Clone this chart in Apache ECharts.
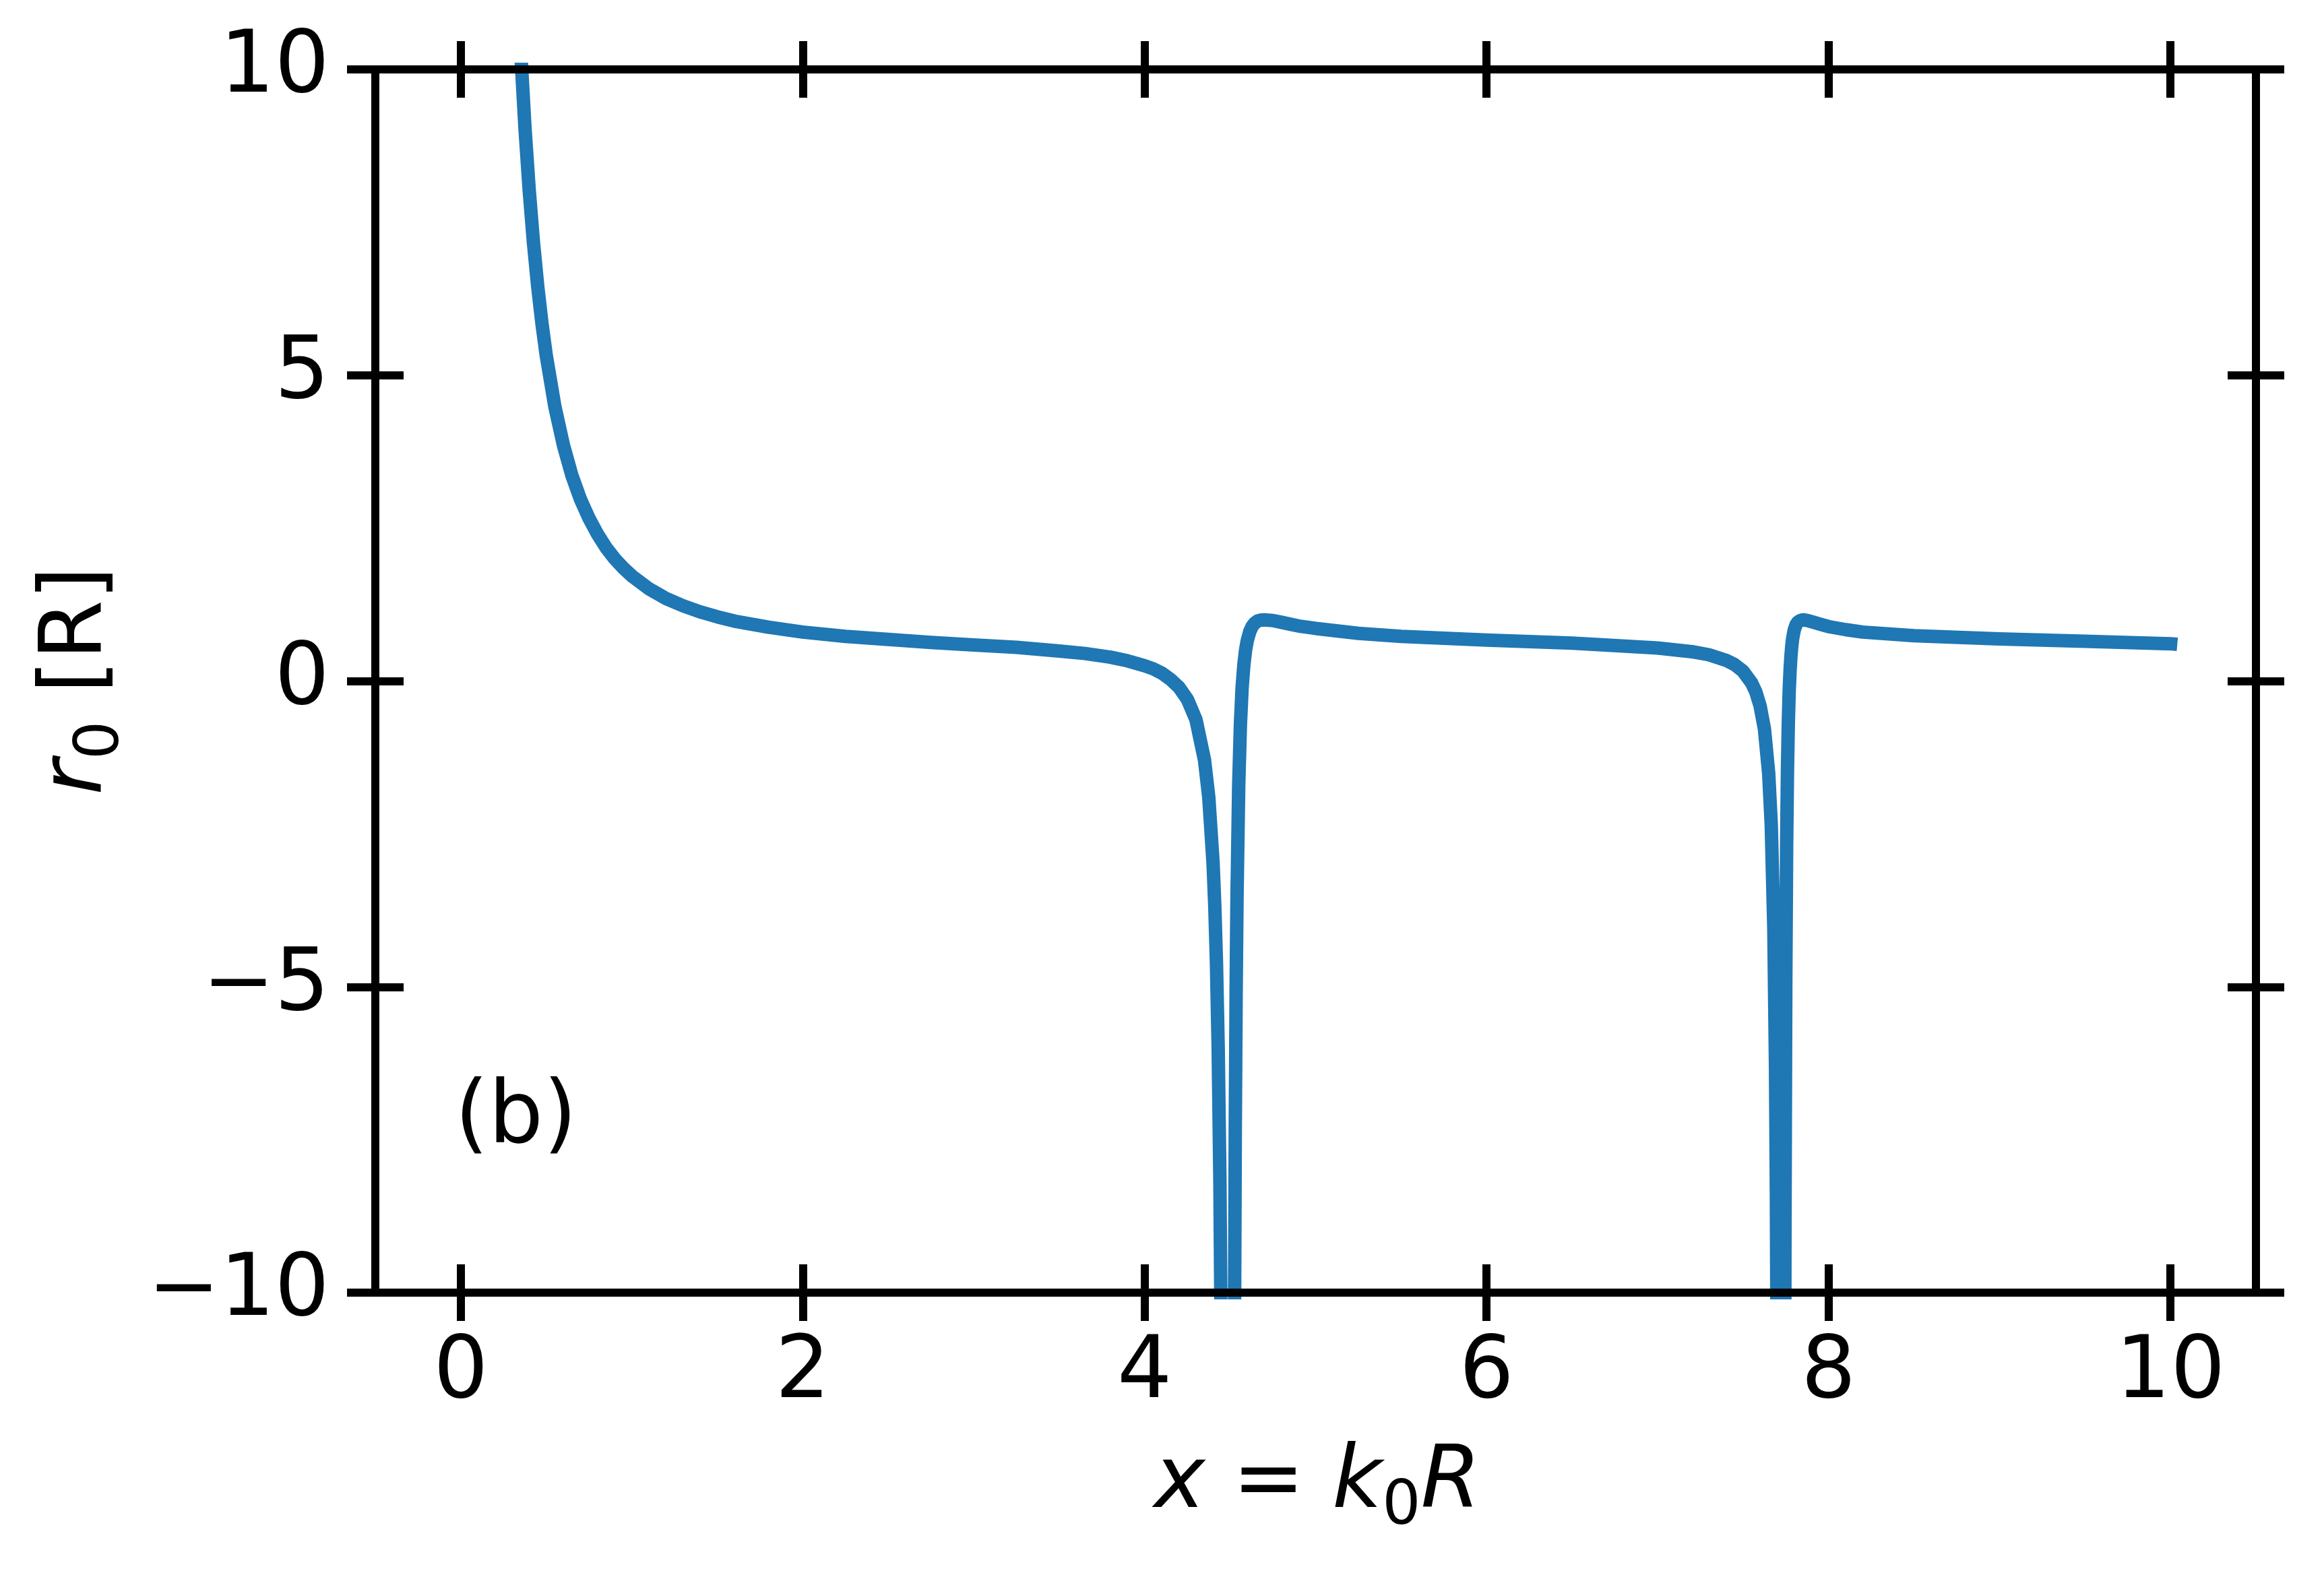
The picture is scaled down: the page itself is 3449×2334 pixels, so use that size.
<!DOCTYPE html>
<html>
<head>
<meta charset="utf-8">
<script src="https://cdn.jsdelivr.net/npm/echarts@6/dist/echarts.min.js"></script>
<style>
  html, body { margin: 0; padding: 0; background: #fff; }
  #chart { width: 3449px; height: 2334px; }
</style>
</head>
<body>
<div id="chart"></div>
<script>
// x = k0 R, sampled densely around the bends and the two dips
const xs = [
  0.30, 0.325, 0.35, 0.375, 0.40, 0.425, 0.45, 0.475, 0.50, 0.55,
  0.60, 0.65, 0.70, 0.75, 0.80, 0.85, 0.90, 0.95, 1.00, 1.10,
  1.20, 1.30, 1.40, 1.50, 1.60, 1.70, 1.80, 2.00, 2.25, 2.50,
  2.75, 3.00, 3.25, 3.50, 3.65, 3.80, 3.90, 4.00, 4.05, 4.10,
  4.15, 4.20, 4.25, 4.30, 4.35, 4.375, 4.40, 4.41, 4.42, 4.43,
  4.44, 4.45, 4.46, 4.47,
  4.52, 4.525, 4.53, 4.535, 4.54, 4.55, 4.56, 4.57, 4.58, 4.59,
  4.60, 4.615, 4.63, 4.645, 4.66, 4.68, 4.70, 4.75, 4.80, 4.85,
  4.90, 5.00, 5.25, 5.50, 6.00, 6.50, 7.00, 7.20, 7.30, 7.40,
  7.45, 7.50, 7.55, 7.575, 7.60, 7.625, 7.65, 7.665, 7.68, 7.69,
  7.695, 7.70, 7.71,
  7.74, 7.745, 7.75, 7.755, 7.76, 7.765, 7.77, 7.775, 7.78, 7.785,
  7.79, 7.795, 7.80, 7.81, 7.82, 7.835, 7.85, 7.875, 7.90, 7.95,
  8.00, 8.10, 8.20, 8.50, 9.00, 9.50, 10.00, 10.04
];
// r0 in units of R
const r0 = [
  13.86, 11.89, 10.32, 9.06, 8.03, 7.17, 6.45, 5.84, 5.32, 4.49,
  3.86, 3.36, 2.97, 2.66, 2.40, 2.18, 2.00, 1.85, 1.72, 1.51,
  1.35, 1.23, 1.13, 1.05, 0.98, 0.93, 0.88, 0.80, 0.73, 0.68,
  0.63, 0.59, 0.55, 0.49, 0.45, 0.39, 0.33, 0.25, 0.20, 0.13,
  0.03, -0.10, -0.30, -0.63, -1.29, -1.90, -2.97, -3.66, -4.61, -5.99,
  -8.15, -11.81, -18.94, -36.3,
  -16.73, -10.88, -7.35, -5.09, -3.56, -1.72, -0.71, -0.11, 0.26, 0.50,
  0.66, 0.81, 0.90, 0.95, 0.98, 0.998, 1.00, 0.99, 0.96, 0.93,
  0.90, 0.86, 0.78, 0.73, 0.67, 0.62, 0.54, 0.48, 0.43, 0.34,
  0.27, 0.16, -0.03, -0.18, -0.41, -0.78, -1.51, -2.35, -4.03, -6.35,
  -8.37, -11.61, -29.2,
  -19.03, -9.19, -4.89, -2.68, -1.43, -0.66, -0.16, 0.17, 0.40, 0.57,
  0.69, 0.77, 0.84, 0.92, 0.96, 0.99, 1.00, 0.99, 0.97, 0.93,
  0.89, 0.84, 0.80, 0.74, 0.69, 0.65, 0.61, 0.60
];
const xTicks = [0, 2, 4, 6, 8, 10];
const yTicks = [-10, -5, 0, 5, 10];

const FONT = 'DejaVu Sans';
const INK = '#000';
const BLUE = '#1f77b4';
const FS = 128;

function minus(v) {
  return v < 0 ? '\u2212' + Math.abs(v) : String(v);
}

// matplotlib-style crossing ticks: one axis ticks inward, a twin ticks outward
function xAxisAt(position, inside, labels) {
  return {
    type: 'value', position, min: -0.5, max: 10.5, z: 5,
    axisLine: { show: true, onZero: false, lineStyle: { color: INK, width: 12 } },
    axisTick: { show: true, inside, length: 42, customValues: xTicks, lineStyle: { color: INK, width: 12 } },
    axisLabel: {
      show: labels, customValues: xTicks, margin: 58, formatter: minus,
      color: INK, fontFamily: FONT, fontSize: FS
    },
    splitLine: { show: false }
  };
}

function yAxisAt(position, inside, labels) {
  return {
    type: 'value', position, min: -10, max: 10, z: 5,
    axisLine: { show: true, onZero: false, lineStyle: { color: INK, width: 12 } },
    axisTick: { show: true, inside, length: 42, customValues: yTicks, lineStyle: { color: INK, width: 12 } },
    axisLabel: {
      show: labels, customValues: yTicks, margin: 68, formatter: minus,
      color: INK, fontFamily: FONT, fontSize: FS
    },
    splitLine: { show: false }
  };
}

const rich = {
  i: { fontFamily: FONT, fontSize: FS, fontStyle: 'italic', fill: INK },
  s: { fontFamily: FONT, fontSize: 90, fill: INK, padding: [70, 0, 0, 0] }
};

const chart = echarts.init(document.getElementById('chart'));
chart.setOption({
  animation: false,
  backgroundColor: '#fff',
  grid: { left: 557, right: 101, top: 103, bottom: 416 },
  xAxis: [
    xAxisAt('bottom', false, true),
    xAxisAt('bottom', true, false),
    xAxisAt('top', false, false),
    xAxisAt('top', true, false)
  ],
  yAxis: [
    yAxisAt('left', false, true),
    yAxisAt('left', true, false),
    yAxisAt('right', false, false),
    yAxisAt('right', true, false)
  ],
  series: [
    {
      type: 'line',
      xAxisIndex: 0,
      yAxisIndex: 0,
      z: 1,
      clip: true,
      showSymbol: false,
      smooth: false,
      lineStyle: { color: BLUE, width: 20, join: 'round', cap: 'butt' },
      data: xs.map((x, i) => [x, r0[i]])
    }
  ],
  graphic: [
    {
      type: 'text', x: 1955, y: 2203,
      style: {
        text: '{i|x} = {i|k}{s|0}{i|R}', rich,
        fontFamily: FONT, fontSize: FS, fill: INK, align: 'center', verticalAlign: 'middle'
      }
    },
    {
      type: 'text', x: 117, y: 1010, rotation: Math.PI / 2,
      style: {
        text: '{i|r}{s|0} [R]', rich,
        fontFamily: FONT, fontSize: FS, fill: INK, align: 'center', verticalAlign: 'middle'
      }
    },
    {
      type: 'text', x: 675, y: 1662,
      style: {
        text: '(b)', fontFamily: FONT, fontSize: FS, fill: INK, align: 'left', verticalAlign: 'middle'
      }
    }
  ]
});
</script>
</body>
</html>
